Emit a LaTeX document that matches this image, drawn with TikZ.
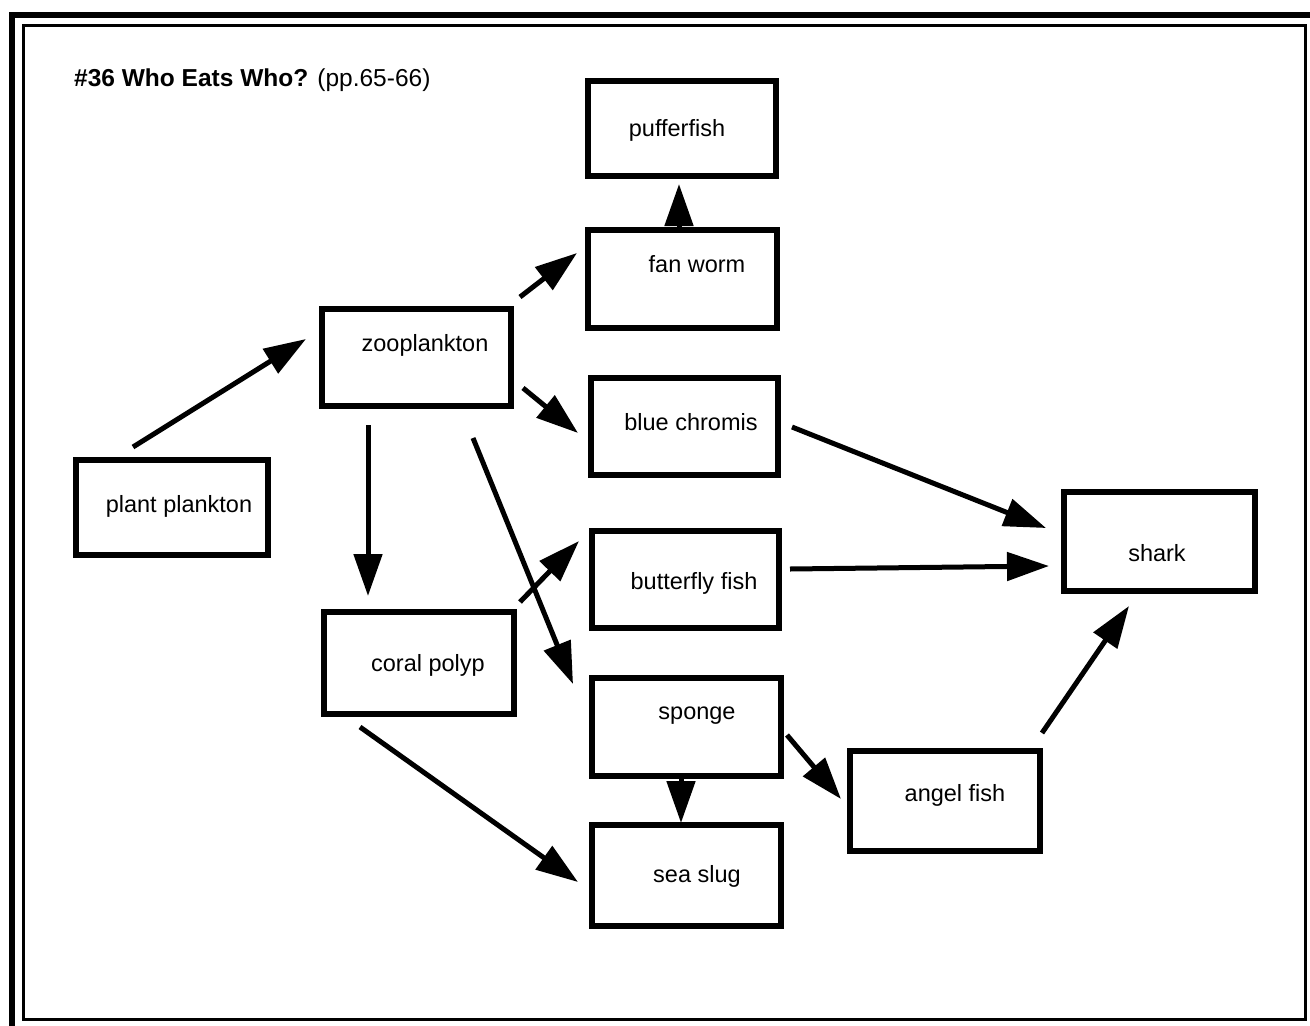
\documentclass[tikz,border=0pt]{standalone}
\usepackage{fontspec}
\setmainfont{Liberation Sans}
\usetikzlibrary{arrows.meta}
\begin{document}
\begin{tikzpicture}[x=1pt,y=-1pt,
  box/.style={draw, line width=5.5pt, inner sep=0pt, rectangle},
  lbl/.style={font=\fontsize{23.5}{26}\selectfont, inner sep=0pt},
  conn/.style={line width=5pt, -{Triangle[length=42pt,width=28pt]}}]
\useasboundingbox (0,0) rectangle (1310,1026);
\fill[white] (0,0) rectangle (1310,1026);
% frame
\draw[line width=6.5pt] (12,15) rectangle (1314,1030);
\draw[line width=3pt] (23,25) rectangle (1305,1019);
% title
\node[lbl, font=\fontsize{24.5}{27}\selectfont, anchor=west] (title) at (74,80) {\textbf{\#36 Who Eats Who?} (pp.65-66)};
% boxes
\node[box, minimum width=188pt, minimum height=95pt] (puff) at (682,128.5) {};
\node[box, minimum width=189pt, minimum height=98pt] (fan) at (682.5,279) {};
\node[box, minimum width=189pt, minimum height=97pt] (zoo) at (416.5,357.5) {};
\node[box, minimum width=187pt, minimum height=97pt] (blue) at (684.5,426.5) {};
\node[box, minimum width=187pt, minimum height=97pt] (butter) at (685.5,579.5) {};
\node[box, minimum width=190pt, minimum height=102pt] (coral) at (419,663) {};
\node[box, minimum width=189pt, minimum height=98pt] (sponge) at (686.5,727) {};
\node[box, minimum width=189pt, minimum height=101pt] (slug) at (686.5,875.5) {};
\node[box, minimum width=192pt, minimum height=95pt] (plant) at (172,507.5) {};
\node[box, minimum width=190pt, minimum height=100pt] (angel) at (945,801) {};
\node[box, minimum width=191pt, minimum height=99pt] (shark) at (1159.5,541.5) {};
% labels
\node[lbl] (puff-t) at (677,130) {pufferfish};
\node[lbl] (fan-t) at (697,264) {fan worm};
\node[lbl] (zoo-t) at (425,345) {zooplankton};
\node[lbl] (blue-t) at (691,422) {blue chromis};
\node[lbl] (butter-t) at (694,583) {butterfly fish};
\node[lbl] (coral-t) at (428,665) {coral polyp};
\node[lbl] (sponge-t) at (697,716) {sponge};
\node[lbl] (slug-t) at (697,876) {sea slug};
\node[lbl] (plant-t) at (179,506) {plant plankton};
\node[lbl] (angel-t) at (955,795) {angel fish};
\node[lbl] (shark-t) at (1157,553) {shark};
% connector ends
\coordinate (a1s) at (133,447);  \coordinate (a1e) at (306,339);
\coordinate (a2s) at (520,297);  \coordinate (a2e) at (577,253);
\coordinate (a3s) at (523,388);  \coordinate (a3e) at (578,433);
\coordinate (a4s) at (368,425);  \coordinate (a4e) at (368,596);
\coordinate (a5s) at (473,438);  \coordinate (a5e) at (573,684);
\coordinate (a6s) at (520,602);  \coordinate (a6e) at (579,541);
\coordinate (a7s) at (360,727);  \coordinate (a7e) at (578,882);
\coordinate (a8s) at (679,228);  \coordinate (a8e) at (679,184);
\coordinate (a9s) at (681,778);  \coordinate (a9e) at (681,823);
\coordinate (a10s) at (787,735); \coordinate (a10e) at (841,799);
\coordinate (a11s) at (792,427); \coordinate (a11e) at (1046,528);
\coordinate (a12s) at (790,569); \coordinate (a12e) at (1049,566);
\coordinate (a13s) at (1042,733); \coordinate (a13e) at (1129,606);
% connectors
\draw[conn] (a1s) -- (a1e);
\draw[conn] (a2s) -- (a2e);
\draw[conn] (a3s) -- (a3e);
\draw[conn] (a4s) -- (a4e);
\draw[conn] (a5s) -- (a5e);
\draw[conn] (a6s) -- (a6e);
\draw[conn] (a7s) -- (a7e);
\draw[conn] (a8s) -- (a8e);
\draw[conn] (a9s) -- (a9e);
\draw[conn] (a10s) -- (a10e);
\draw[conn] (a11s) -- (a11e);
\draw[conn] (a12s) -- (a12e);
\draw[conn] (a13s) -- (a13e);
\end{tikzpicture}
\end{document}
